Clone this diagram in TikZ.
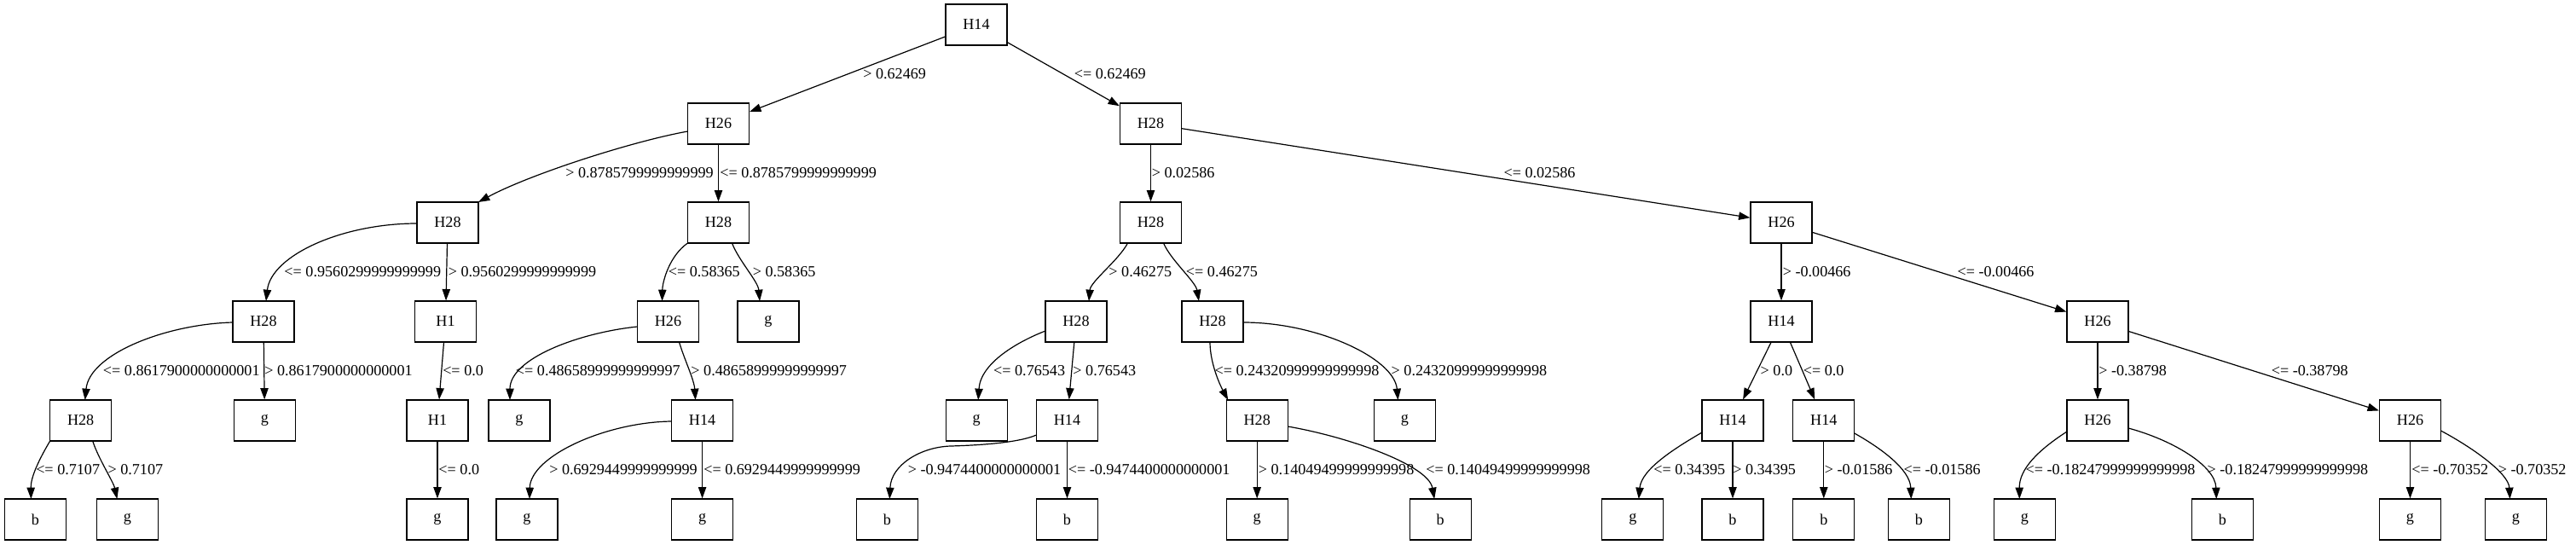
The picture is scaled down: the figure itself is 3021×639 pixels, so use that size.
\documentclass[tikz,border=0pt]{standalone}
\usepackage{fontspec}
\setmainfont{Liberation Serif}
\usetikzlibrary{arrows.meta,calc}
\begin{document}
\begin{tikzpicture}[x=0.75pt,y=-0.75pt,
  boxnode/.style={draw,line width=0.9pt,minimum width=54pt,minimum height=36pt,inner sep=0pt,font=\fontsize{13.6}{16}\selectfont},
  conn/.style={line width=0.9pt,-{Triangle[length=10pt,width=7pt]}},
  elabel/.style={anchor=west,inner sep=0pt,font=\fontsize{13.6}{16}\selectfont}]
\useasboundingbox (0,0) rectangle (3021,639);
% ---------- decision nodes ----------
\node[boxnode] (n0) at (1145,29) {H14};
\node[boxnode] (n1) at (842.5,145) {H26};
\node[boxnode] (n2) at (1349.5,145) {H28};
\node[boxnode] (n3) at (525,261) {H28};
\node[boxnode] (n4) at (842.5,261) {H28};
\node[boxnode] (n5) at (1349.5,261) {H28};
\node[boxnode] (n6) at (2089,261) {H26};
\node[boxnode] (n7) at (309,377) {H28};
\node[boxnode] (n8) at (522.5,377) {H1};
\node[boxnode] (n9) at (783.5,377) {H26};
\node[boxnode] (n10) at (901,377) {g};
\node[boxnode] (n11) at (1262,377) {H28};
\node[boxnode] (n12) at (1422,377) {H28};
\node[boxnode] (n13) at (2089,377) {H14};
\node[boxnode] (n14) at (2460,377) {H26};
\node[boxnode] (n15) at (94.7,493) {H28};
\node[boxnode] (n16) at (310.5,493) {g};
\node[boxnode] (n17) at (513,493) {H1};
\node[boxnode] (n18) at (609,493) {g};
\node[boxnode] (n19) at (823.6,493) {H14};
\node[boxnode] (n20) at (1145.2,493) {g};
\node[boxnode] (n21) at (1251.5,493) {H14};
\node[boxnode] (n22) at (1474.2,493) {H28};
\node[boxnode] (n23) at (1647.5,493) {g};
\node[boxnode] (n24) at (2032,493) {H14};
\node[boxnode] (n25) at (2138.8,493) {H14};
\node[boxnode] (n26) at (2460,493) {H26};
\node[boxnode] (n27) at (2826.5,493) {H26};
% ---------- leaves ----------
\node[boxnode] (l0) at (41.4,609) {b};
\node[boxnode] (l1) at (149.4,609) {g};
\node[boxnode] (l2) at (513,609) {g};
\node[boxnode] (l3) at (618,609) {g};
\node[boxnode] (l4) at (823.6,609) {g};
\node[boxnode] (l5) at (1040.3,609) {b};
\node[boxnode] (l6) at (1251.5,609) {b};
\node[boxnode] (l7) at (1474.2,609) {g};
\node[boxnode] (l8) at (1689.2,609) {b};
\node[boxnode] (l9) at (1914.8,609) {g};
\node[boxnode] (l10) at (2032,609) {b};
\node[boxnode] (l11) at (2138.8,609) {b};
\node[boxnode] (l12) at (2250.3,609) {b};
\node[boxnode] (l13) at (2374.3,609) {g};
\node[boxnode] (l14) at (2606.3,609) {b};
\node[boxnode] (l15) at (2826.5,609) {g};
\node[boxnode] (l16) at (2950.5,609) {g};
% ---------- connectors ----------
\draw[conn] (n0) -- (n1);
\draw[conn] (n0) -- (n2);
\draw[conn] ($(n1)+(-36,9)$) .. controls (740,166) and (620,205) .. ($(n3)+(36,-24)$);
\draw[conn] (n1) -- (n4);
\draw[conn] (n2) -- (n5);
\draw[conn] (n2) -- (n6);
\draw[conn] ($(n3)+(-36,1)$) .. controls (400,262) and (318,300) .. ($(n7)+(3,-24)$);
\draw[conn] (n3) -- (n8);
\draw[conn] ($(n4)+(-36,24)$) .. controls (785,300) and (777,330) .. ($(n9)+(-7,-24)$);
\draw[conn] ($(n4)+(16,24)$) .. controls (866,305) and (889,330) .. ($(n10)+(-10,-24)$);
\draw[conn] ($(n5)+(-27,24)$) .. controls (1312,305) and (1279,330) .. ($(n11)+(15,-24)$);
\draw[conn] ($(n5)+(15,24)$) .. controls (1373,305) and (1402,330) .. ($(n12)+(-16,-24)$);
\draw[conn] (n6) -- (n13);
\draw[conn] (n6) -- (n14);
\draw[conn] ($(n7)+(-36,1)$) .. controls (195,380) and (105,415) .. ($(n15)+(5,-24)$);
\draw[conn] (n7) -- (n16);
\draw[conn] (n8) -- (n17);
\draw[conn] ($(n9)+(-36,6)$) .. controls (680,390) and (598,420) .. ($(n18)+(-11,-24)$);
\draw[conn] ($(n9)+(13,24)$) .. controls (802,420) and (814,445) .. ($(n19)+(-8,-24)$);
\draw[conn] ($(n11)+(-36,11)$) .. controls (1195,400) and (1150,425) .. ($(n20)+(2,-24)$);
\draw[conn] (n11) -- (n21);
\draw[conn] ($(n12)+(-3,24)$) .. controls (1419,425) and (1430,450) .. ($(n22)+(-34,-24)$);
\draw[conn] ($(n12)+(36,1)$) .. controls (1545,378) and (1635,420) .. ($(n23)+(-8,-24)$);
\draw[conn] (n13) -- (n24);
\draw[conn] (n13) -- (n25);
\draw[conn] (n14) -- (n26);
\draw[conn] (n14) -- (n27);
\draw[conn] ($(n15)+(-36,24)$) .. controls (45,540) and (36,560) .. ($(l0)+(-5,-24)$);
\draw[conn] ($(n15)+(14,24)$) .. controls (115,537) and (133,565) .. ($(l1)+(-12,-24)$);
\draw[conn] (n17) -- (l2);
\draw[conn] ($(n19)+(-36,1)$) .. controls (710,495) and (622,535) .. ($(l3)+(3,-24)$);
\draw[conn] (n19) -- (l4);
\coordinate (w21) at (1115,523);
\draw[conn] ($(n21)+(-36,17)$) .. controls (1195,519) and (1150,522) .. (w21) .. controls (1080,524) and (1045,545) .. ($(l5)+(3,-24)$);
\draw[conn] (n21) -- (l6);
\draw[conn] (n22) -- (l7);
\draw[conn] ($(n22)+(36,7)$) .. controls (1580,512) and (1675,545) .. ($(l8)+(-7,-24)$);
\draw[conn] ($(n24)+(-36,14)$) .. controls (1965,525) and (1925,550) .. ($(l9)+(7,-24)$);
\draw[conn] (n24) -- (l10);
\draw[conn] (n25) -- (l11);
\draw[conn] ($(n25)+(36,15)$) .. controls (2205,525) and (2240,550) .. ($(l12)+(-9,-24)$);
\draw[conn] ($(n26)+(-36,13)$) .. controls (2390,528) and (2368,550) .. ($(l13)+(-6,-24)$);
\draw[conn] ($(n26)+(36,9)$) .. controls (2545,515) and (2598,545) .. ($(l14)+(-7,-24)$);
\draw[conn] (n27) -- (l15);
\draw[conn] ($(n27)+(36,12)$) .. controls (2900,525) and (2942,555) .. ($(l16)+(-7,-24)$);
% ---------- edge labels ----------
\node[elabel] (t1) at (1012,87) {> 0.62469};
\node[elabel] (t2) at (1259.6,87) {<= 0.62469};
\node[elabel] (t3) at (663,203) {> 0.8785799999999999};
\node[elabel] (t4) at (844,203) {<= 0.8785799999999999};
\node[elabel] (t5) at (1350.5,203) {> 0.02586};
\node[elabel] (t6) at (1763.3,203) {<= 0.02586};
\node[elabel] (t7) at (333.2,319) {<= 0.9560299999999999};
\node[elabel] (t8) at (525.5,319) {> 0.9560299999999999};
\node[elabel] (t9) at (783.6,319) {<= 0.58365};
\node[elabel] (t10) at (882.5,319) {> 0.58365};
\node[elabel] (t11) at (1300.2,319) {> 0.46275};
\node[elabel] (t12) at (1390.7,319) {<= 0.46275};
\node[elabel] (t13) at (2090.5,319) {> -0.00466};
\node[elabel] (t14) at (2295.3,319) {<= -0.00466};
\node[elabel] (t15) at (120.7,435) {<= 0.8617900000000001};
\node[elabel] (t16) at (310,435) {> 0.8617900000000001};
\node[elabel] (t17) at (519,435) {<= 0.0};
\node[elabel] (t18) at (604.7,435) {<= 0.48658999999999997};
\node[elabel] (t19) at (810.2,435) {> 0.48658999999999997};
\node[elabel] (t20) at (1164.9,435) {<= 0.76543};
\node[elabel] (t21) at (1258.2,435) {> 0.76543};
\node[elabel] (t22) at (1424.4,435) {<= 0.24320999999999998};
\node[elabel] (t23) at (1631.4,435) {> 0.24320999999999998};
\node[elabel] (t24) at (2064.4,435) {> 0.0};
\node[elabel] (t25) at (2114.5,435) {<= 0.0};
\node[elabel] (t26) at (2461,435) {> -0.38798};
\node[elabel] (t27) at (2663.5,435) {<= -0.38798};
\node[elabel] (t28) at (42,551) {<= 0.7107};
\node[elabel] (t29) at (126.3,551) {> 0.7107};
\node[elabel] (t30) at (514.2,551) {<= 0.0};
\node[elabel] (t31) at (644,551) {> 0.6929449999999999};
\node[elabel] (t32) at (825,551) {<= 0.6929449999999999};
\node[elabel] (t33) at (1064.5,551) {> -0.9474400000000001};
\node[elabel] (t34) at (1252.5,551) {<= -0.9474400000000001};
\node[elabel] (t35) at (1475.6,551) {> 0.14049499999999998};
\node[elabel] (t36) at (1672,551) {<= 0.14049499999999998};
\node[elabel] (t37) at (1939,551) {<= 0.34395};
\node[elabel] (t38) at (2032,551) {> 0.34395};
\node[elabel] (t39) at (2139.5,551) {> -0.01586};
\node[elabel] (t40) at (2232.4,551) {<= -0.01586};
\node[elabel] (t41) at (2375.4,551) {<= -0.18247999999999998};
\node[elabel] (t42) at (2588.4,551) {> -0.18247999999999998};
\node[elabel] (t43) at (2828,551) {<= -0.70352};
\node[elabel] (t44) at (2929.5,551) {> -0.70352};
\end{tikzpicture}
\end{document}
